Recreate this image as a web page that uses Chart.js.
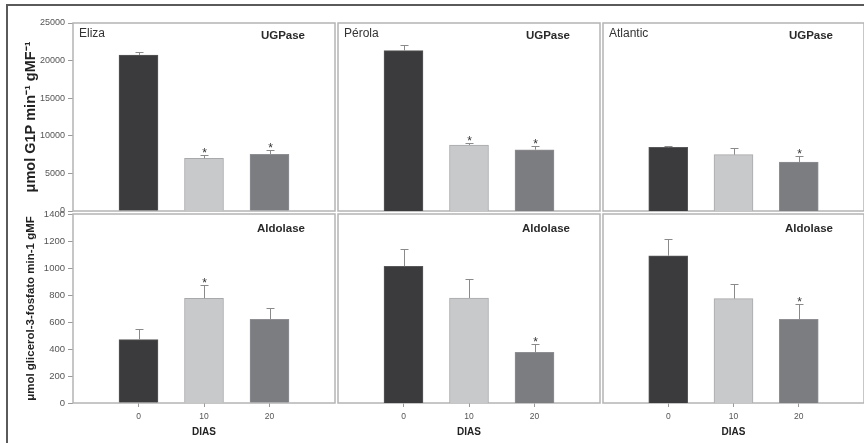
<!DOCTYPE html>
<html>
<head>
<meta charset="utf-8">
<script src="https://cdn.jsdelivr.net/npm/chart.js@4.4.1/dist/chart.umd.min.js"></script>
<style>
  html, body { margin: 0; padding: 0; background: #fff; overflow: hidden; }
  #wrap { position: relative; width: 864px; height: 443px; overflow: hidden; }
  #wrap canvas { position: absolute; left: 0; top: 0; }
  #frame { position: absolute; left: 6px; top: 4px; width: 900px; height: 500px;
           border-top: 2px solid #5a5a5a; border-left: 2px solid #5a5a5a; }
</style>
</head>
<body>
<div id="wrap">
  <div id="frame"></div>
  <canvas id="c0" width="864" height="443"></canvas>
  <canvas id="c1" width="864" height="443"></canvas>
  <canvas id="c2" width="864" height="443"></canvas>
  <canvas id="c3" width="864" height="443"></canvas>
  <canvas id="c4" width="864" height="443"></canvas>
  <canvas id="c5" width="864" height="443"></canvas>
</div>
<script>
// days after harvest
var days = [0, 10, 20];
var xTicks = [0, 10, 20];
var ugpTicks = [0, 5000, 10000, 15000, 20000, 25000];
var aldTicks = [0, 200, 400, 600, 800, 1000, 1200, 1400];

var cultivars = ['Eliza', 'Pérola', 'Atlantic'];

// UGPase
var elizaUgp = [20750, 7000, 7550];
var elizaUgpErr = [350, 450, 520];
var elizaUgpSig = [false, true, true];
var perolaUgp = [21320, 8780, 8150];
var perolaUgpErr = [760, 230, 490];
var perolaUgpSig = [false, true, true];
var atlanticUgp = [8470, 7490, 6520];
var atlanticUgpErr = [170, 890, 800];
var atlanticUgpSig = [false, false, true];

// Aldolase
var elizaAld = [469, 776, 620];
var elizaAldErr = [81, 98, 81];
var elizaAldSig = [false, true, false];
var perolaAld = [1013, 778, 376];
var perolaAldErr = [126, 138, 59];
var perolaAldSig = [false, false, true];
var atlanticAld = [1091, 773, 620];
var atlanticAldErr = [124, 111, 111];
var atlanticAldSig = [false, false, true];

var barColors = ['#3b3b3d', '#c8c9cb', '#7c7d81'];
var barBorders = ['#58585a', '#a8a9ab', '#8e8f93'];

var FONT = '"Liberation Sans", Arial, sans-serif';
Chart.defaults.font.family = FONT;

// panel boxes (pixels)
var cols = [[73, 335], [338, 600], [603, 865]];
var rows = [[23, 211], [214, 403]];

var extras = {
  id: 'extras',
  beforeDatasetsDraw: function(chart) {
    var a = chart.chartArea, ctx = chart.ctx;
    ctx.save();
    ctx.strokeStyle = '#b4b4b4';
    ctx.lineWidth = 1.5;
    ctx.strokeRect(a.left, a.top, a.right - a.left, a.bottom - a.top);
    ctx.restore();
  },
  afterDatasetsDraw: function(chart) {
    var p = chart.options.plugins.extras;
    var xs = chart.scales.x, ys = chart.scales.y, ctx = chart.ctx, a = chart.chartArea;
    ctx.save();
    ctx.strokeStyle = '#8a8a8a';
    ctx.lineWidth = 1;
    days.forEach(function(d, i) {
      var x = Math.round(xs.getPixelForValue(d)) + 0.5;
      var y0 = ys.getPixelForValue(p.vals[i]);
      var y1 = Math.round(ys.getPixelForValue(p.vals[i] + p.errs[i])) + 0.5;
      ctx.beginPath();
      ctx.moveTo(x, y0);
      ctx.lineTo(x, y1);
      ctx.moveTo(x - 4, y1);
      ctx.lineTo(x + 4, y1);
      ctx.stroke();
      if (p.sig[i]) {
        ctx.fillStyle = '#333';
        ctx.font = '12px ' + FONT;
        ctx.textAlign = 'center';
        ctx.textBaseline = 'alphabetic';
        ctx.fillText('*', x, y1 + 1);
      }
    });
    if (p.name) {
      ctx.fillStyle = '#333';
      ctx.font = '12px ' + FONT;
      ctx.textAlign = 'left';
      ctx.textBaseline = 'middle';
      ctx.fillText(p.name, a.left + 6, a.top + 11);
    }
    ctx.fillStyle = '#2a2a2a';
    ctx.font = 'bold 11.5px ' + FONT;
    ctx.textAlign = 'right';
    ctx.textBaseline = 'middle';
    ctx.fillText(p.enzyme, a.right - p.labelDx, a.top + p.labelDy);
    ctx.restore();
  }
};

function plain(v) { return String(v); }

function makePanel(id, row, col, vals, errs, sig, yTicks, yMax, name, enzyme, yTitle, titleSize) {
  var isLeft = col === 0, isBottom = row === 1;
  var l = cols[col][0], r = cols[col][1], t = rows[row][0], b = rows[row][1];
  var yw = isLeft ? 55 : 0;
  var xh = isBottom ? 40 : 0;
  new Chart(document.getElementById(id), {
    type: 'bar',
    data: {
      datasets: [{
        data: days.map(function(d, i) { return { x: d, y: vals[i] }; }),
        backgroundColor: barColors,
        borderColor: barBorders,
        borderWidth: 1,
        barThickness: 39
      }]
    },
    options: {
      responsive: false,
      animation: false,
      events: [],
      layout: { padding: { left: l - yw, top: t, right: 864 - r, bottom: 443 - b - xh } },
      plugins: {
        legend: { display: false },
        tooltip: { enabled: false },
        extras: { vals: vals, errs: errs, sig: sig, name: name, enzyme: enzyme,
                  labelDy: isBottom ? 15 : 13, labelDx: col === 2 ? 31 : 30 }
      },
      scales: {
        x: {
          type: 'linear', min: -10, max: 30, offset: false,
          afterBuildTicks: function(s) { s.ticks = xTicks.map(function(v) { return { value: v }; }); },
          afterFit: function(s) { s.height = xh; },
          grid: { display: isBottom, offset: false, drawOnChartArea: false, drawTicks: true, tickLength: 4, color: '#9a9a9a' },
          border: { display: false },
          ticks: { display: isBottom, color: '#555', font: { size: 8.5 }, padding: 5, maxRotation: 0, autoSkip: false, callback: plain },
          title: { display: isBottom, text: 'DIAS', color: '#222', font: { size: 10, weight: 'bold' }, padding: { top: 0, bottom: 5 } }
        },
        y: {
          display: isLeft, min: 0, max: yMax,
          afterBuildTicks: function(s) { s.ticks = yTicks.map(function(v) { return { value: v }; }); },
          afterFit: function(s) { s.width = yw; },
          grid: { drawOnChartArea: false, tickLength: 5, color: '#9a9a9a' },
          border: { display: false },
          ticks: { color: '#555', font: { size: isBottom ? 9.5 : 9 }, padding: 3, callback: plain },
          title: { display: isLeft, text: yTitle, color: '#222', font: { size: titleSize, weight: 'bold' },
                   padding: { top: isBottom ? 6 : 4, bottom: 0 } }
        }
      }
    },
    plugins: [extras]
  });
}

var topTitle = 'μmol G1P min⁻¹ gMF⁻¹';
var botTitle = 'μmol glicerol-3-fosfato min-1 gMF';

makePanel('c0', 0, 0, elizaUgp, elizaUgpErr, elizaUgpSig, ugpTicks, 25000, cultivars[0], 'UGPase', topTitle, 14.5);
makePanel('c1', 0, 1, perolaUgp, perolaUgpErr, perolaUgpSig, ugpTicks, 25000, cultivars[1], 'UGPase', '', 14.5);
makePanel('c2', 0, 2, atlanticUgp, atlanticUgpErr, atlanticUgpSig, ugpTicks, 25000, cultivars[2], 'UGPase', '', 14.5);
makePanel('c3', 1, 0, elizaAld, elizaAldErr, elizaAldSig, aldTicks, 1400, '', 'Aldolase', botTitle, 11.5);
makePanel('c4', 1, 1, perolaAld, perolaAldErr, perolaAldSig, aldTicks, 1400, '', 'Aldolase', '', 11.5);
makePanel('c5', 1, 2, atlanticAld, atlanticAldErr, atlanticAldSig, aldTicks, 1400, '', 'Aldolase', '', 11.5);
</script>
</body>
</html>
